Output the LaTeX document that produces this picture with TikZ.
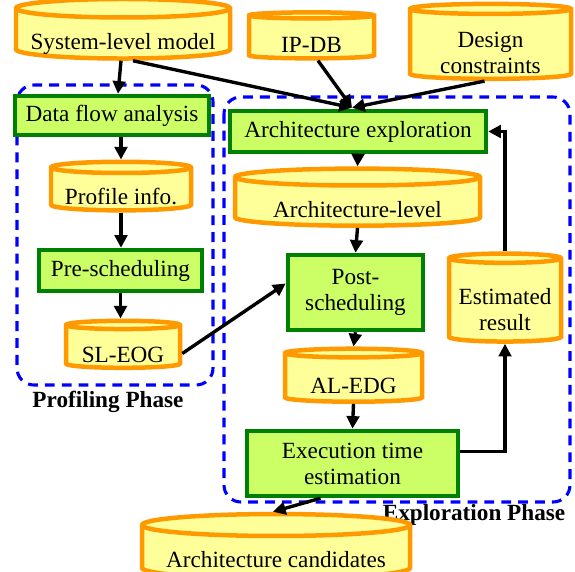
\documentclass[tikz,border=0pt]{standalone}
\usepackage{fontspec}
\setmainfont{Liberation Serif}
\usetikzlibrary{shapes.geometric,arrows.meta,calc}
\definecolor{dborange}{RGB}{255,153,0}
\definecolor{dbyellow}{RGB}{255,255,153}
\definecolor{taskgreen}{RGB}{0,128,0}
\definecolor{tasklime}{RGB}{204,255,102}

\begin{document}
\begin{tikzpicture}[x=0.025cm,y=-0.025cm,
  store/.style={cylinder, shape border rotate=90, draw=dborange, line width=3.2pt,
    cylinder uses custom fill, cylinder body fill=dbyellow, cylinder end fill=dbyellow,
    aspect=#1, inner sep=0pt, align=center, text height=21pt, text depth=0pt},
  store/.default=0.1,
  task/.style={rectangle, draw=taskgreen, fill=tasklime, line width=3.2pt,
    inner sep=1pt, align=center},
  dims/.style 2 args={minimum width=#1*0.025cm, minimum height=#2*0.025cm},
  phase/.style={draw=blue, line width=2.2pt, dash pattern=on 7pt off 5pt, rounded corners=12pt},
  flow/.style={-{Triangle[length=9pt,width=9pt]}, line width=2.4pt}]
\tikzstyle{every node}=[font=\fontsize{16.5}{18.5}\selectfont]
\useasboundingbox (0,0) rectangle (575,572);

% phases
\draw[phase] (17,85) rectangle (213,385);
\draw[phase] (224,97) rectangle (570,502);
\node[font=\fontsize{16.5}{18.5}\selectfont\bfseries] (proflabel) at (108,402) {Profiling Phase};
\node[font=\fontsize{16.5}{18.5}\selectfont\bfseries] (explabel) at (474,515) {Exploration Phase};

% inputs
\node[store, dims={214}{51}] (slm) at (123,34.5) {System-level model};
\node[store, dims={125}{46}] (ipdb) at (311.5,38) {IP-DB};
\node[store, dims={161}{72}, text height=41pt] (dc) at (490.5,45) {Design\\constraints};

% profiling
\node[task, dims={194}{39}] (dfa) at (112,115.5) {Data flow analysis};
\node[store, dims={140}{46}] (pinfo) at (121,190) {Profile info.};
\node[task, dims={163}{41}] (presch) at (120.5,270.5) {Pre-scheduling};
\node[store, dims={114}{47}] (sleog) at (123,347.5) {SL-EOG};

% exploration
\node[task, dims={256}{41}] (archexp) at (358,131.5) {Architecture exploration};
\node[store, dims={245}{51}] (archlvl) at (357.5,202.5) {Architecture-level};
\node[task, dims={135}{75}] (postsch) at (355.5,292.5) {Post-\\scheduling};
\node[store, dims={112}{88}, text height=42pt] (estres) at (505,301) {Estimated\\result};
\node[store, dims={137}{53}] (aledg) at (353.5,378.5) {AL-EDG};
\node[task, dims={211}{65}] (exectime) at (352.5,463.5) {Execution time\\estimation};
\node[store, dims={268}{56}] (archcand) at (276,553) {Architecture candidates};

\coordinate (meet) at ($(archexp.north)+(-6,-1)$);
\draw[flow] ($(slm.south)+(-2,0)$) -- ($(dfa.north)+(6,0)$);
\draw[flow] ($(slm.south)+(10,0)$) -- (meet);
\draw[flow] ($(ipdb.south)+(6.5,0)$) -- (meet);
\draw[flow] ($(dc.south)+(-6,0)$) -- (meet);
\draw[flow] (dfa.south -| pinfo.north) -- (pinfo.north);
\draw[flow] (pinfo.south) -- (pinfo.south |- presch.north);
\draw[flow] (presch.south) -- (presch.south |- sleog.north);
\draw[flow] ($(sleog.east)+(0,6)$) -- ($(postsch.west)+(0,-9)$);
\draw[flow] (archexp.south) -- (archlvl.north);
\draw[flow] (archlvl.south) -- (postsch.north);
\draw[flow] (postsch.south) -- (aledg.north);
\draw[flow] (aledg.south) -- (exectime.north);
\draw[flow] ($(exectime.east)+(0,-12)$) -| (estres.south);
\draw[flow] (estres.north) |- (archexp.east);
\draw[flow] ($(exectime.south)+(-32,0)$) -- ($(archcand.north)+(-3,0)$);
\end{tikzpicture}
\end{document}
